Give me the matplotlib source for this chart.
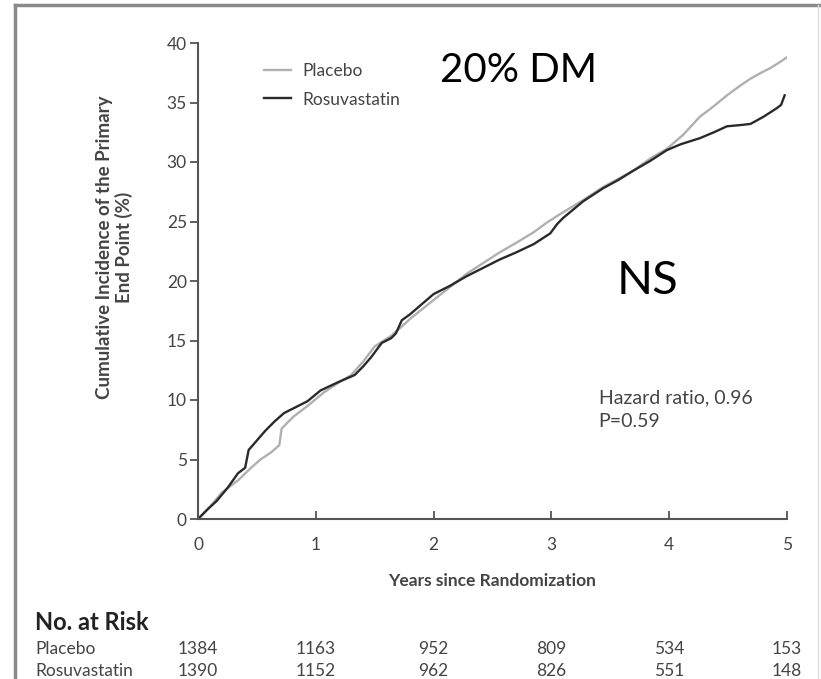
import matplotlib
matplotlib.use('Agg')
import matplotlib.pyplot as plt
from matplotlib.lines import Line2D
from matplotlib.transforms import blended_transform_factory

plt.rcParams['font.family'] = ['Lato', 'DejaVu Sans']

# cumulative incidence (%)
placebo_t = [0, 0.09, 0.2, 0.34, 0.45, 0.53, 0.62, 0.69, 0.71, 0.81, 0.93, 1.07, 1.2, 1.3,
             1.4, 1.5, 1.64, 1.71, 1.81, 2.0, 2.14, 2.28, 2.42, 2.56, 2.7, 2.85, 2.96, 3.07,
             3.27, 3.44, 3.7, 3.84, 3.98, 4.12, 4.26, 4.38, 4.49, 4.6, 4.69, 4.78, 4.86,
             4.94, 5.0]
placebo_v = [0, 0.9, 2.2, 3.25, 4.3, 5.0, 5.6, 6.2, 7.6, 8.6, 9.5, 10.65, 11.5, 12.1,
             13.2, 14.5, 15.4, 16.0, 16.9, 18.4, 19.5, 20.6, 21.5, 22.4, 23.2, 24.1, 24.9,
             25.6, 26.8, 27.9, 29.3, 30.3, 31.1, 32.3, 33.8, 34.7, 35.6, 36.4, 37.0, 37.5,
             37.9, 38.4, 38.8]

rosu_t = [0, 0.08, 0.157, 0.25, 0.34, 0.4, 0.43, 0.5, 0.57, 0.65, 0.73, 0.83, 0.93, 1.04,
          1.19, 1.33, 1.4, 1.47, 1.56, 1.64, 1.68, 1.73, 1.8, 1.87, 2.0, 2.14, 2.28, 2.42,
          2.56, 2.7, 2.85, 2.99, 3.05, 3.1, 3.27, 3.44, 3.57, 3.7, 3.84, 3.98, 4.1, 4.26,
          4.38, 4.49, 4.6, 4.69, 4.8, 4.91, 4.95, 4.98]
rosu_v = [0, 0.8, 1.5, 2.6, 3.85, 4.3, 5.8, 6.6, 7.4, 8.2, 8.9, 9.4, 9.9, 10.8,
          11.5, 12.1, 12.8, 13.6, 14.8, 15.2, 15.6, 16.7, 17.2, 17.8, 18.9, 19.6, 20.4, 21.1,
          21.8, 22.4, 23.1, 24.0, 24.8, 25.3, 26.7, 27.8, 28.5, 29.3, 30.1, 31.0, 31.5, 32.0,
          32.5, 33.0, 33.1, 33.2, 33.8, 34.5, 34.8, 35.6]

x_ticks = [0, 1, 2, 3, 4, 5]
y_ticks = [0, 5, 10, 15, 20, 25, 30, 35, 40]
risk_placebo = [1384, 1163, 952, 809, 534, 153]
risk_rosu = [1390, 1152, 962, 826, 551, 148]

txt = '#444444'
fig = plt.figure(figsize=(8.21, 6.79), dpi=100)
ax = fig.add_axes([198 / 821, 1 - 519 / 679, 589 / 821, 476 / 679])

ax.plot(placebo_t, placebo_v, color='#b0b0b0', lw=1.7, label='Placebo')
ax.plot(rosu_t, rosu_v, color='#2a2a2a', lw=1.7, label='Rosuvastatin')

ax.set_xlim(0, 5)
ax.set_ylim(0, 40)
ax.set_xticks(x_ticks)
ax.set_yticks(y_ticks)
for s in ['top', 'right']:
    ax.spines[s].set_visible(False)
for s in ['left', 'bottom']:
    ax.spines[s].set_color('#555555')
    ax.spines[s].set_linewidth(1.5)
ax.tick_params(axis='y', direction='out', length=6, width=1.3, color='#555555',
               labelsize=12.5, labelcolor=txt, pad=2)
ax.tick_params(axis='x', direction='in', length=6, width=1.3, color='#555555',
               labelsize=12.5, labelcolor=txt, pad=13)

ax.set_xlabel('Years since Randomization', fontsize=12.5, fontweight='bold',
              color=txt, labelpad=14)
ax.set_ylabel('Cumulative Incidence of the Primary\nEnd Point (%)', fontsize=13.5,
              fontweight='bold', color=txt, linespacing=1.15)
ax.yaxis.set_label_coords(-0.11, 0.57)

ax.legend(loc='upper left', bbox_to_anchor=(0.085, 0.99), frameon=False, fontsize=12.5,
          handlelength=1.6, handletextpad=0.6, labelspacing=0.7, labelcolor=txt)

ax.text(3.40, 10.2, 'Hazard ratio, 0.96', fontsize=14, color=txt, va='center')
ax.text(3.40, 8.2, 'P=0.59', fontsize=14, color=txt, va='center')

ax.text(2.72, 37.7, '20% DM', fontsize=29, color='black', ha='center', va='center')
ax.text(3.82, 20.0, 'NS', fontsize=34, color='black', ha='center', va='center')

# number at risk table
tr = blended_transform_factory(ax.transData, fig.transFigure)
fig.text(35 / 821, 1 - 623 / 679, 'No. at Risk', fontsize=17, fontweight='bold',
         color='#222222', va='center')
fig.text(35 / 821, 1 - 649 / 679, 'Placebo', fontsize=12.5, color=txt, va='center')
fig.text(35 / 821, 1 - 671 / 679, 'Rosuvastatin', fontsize=12.5, color=txt, va='center')
for xt, a, b in zip(x_ticks, risk_placebo, risk_rosu):
    ax.text(xt, 1 - 649 / 679, str(a), transform=tr, fontsize=12.5, color=txt,
            ha='center', va='center')
    ax.text(xt, 1 - 671 / 679, str(b), transform=tr, fontsize=12.5, color=txt,
            ha='center', va='center')

# grey frame of the slide
fig.add_artist(Line2D([15 / 821, 15 / 821], [0, 1 - 5 / 679], color='#8a8a8a', lw=2.5))
fig.add_artist(Line2D([15 / 821, 1], [1 - 5 / 679, 1 - 5 / 679], color='#8a8a8a', lw=2.5))
fig.add_artist(Line2D([818 / 821, 818 / 821], [0, 1 - 5 / 679], color='#dddddd', lw=1))

fig.savefig('out.png', dpi=100)
